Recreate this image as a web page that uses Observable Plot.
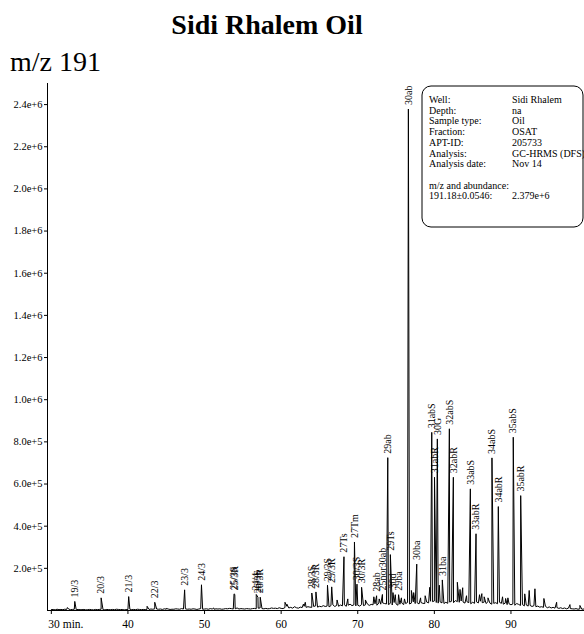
<!DOCTYPE html>
<html>
<head>
<meta charset="utf-8">
<script src="https://cdn.jsdelivr.net/npm/d3@7"></script>
<script src="https://cdn.jsdelivr.net/npm/@observablehq/plot@0.6"></script>
<style>
  body { margin: 0; background: #fff; font-family: "Liberation Serif", "Times New Roman", serif; }
  #wrap { position: relative; width: 584px; height: 634px; overflow: hidden; }
  #title { position: absolute; left: 0; width: 534px; top: 11px; text-align: center;
           font-weight: bold; font-size: 28px; line-height: 28px; }
  #sub { position: absolute; left: 10px; top: 48px; font-size: 28px; line-height: 28px; }
  #chart { position: absolute; left: 0; top: 78px; }
</style>
</head>
<body>
<div id="wrap">
  <div id="title">Sidi Rhalem Oil</div>
  <div id="sub">m/z 191</div>
  <div id="chart"></div>
</div>
<script>
// Retention time axis (min) and abundance ticks
const xTicks = [30, 40, 50, 60, 70, 80, 90];
const yTicks = [2e5, 4e5, 6e5, 8e5, 1.0e6, 1.2e6, 1.4e6, 1.6e6, 1.8e6, 2.0e6, 2.2e6, 2.4e6];

// Identified m/z 191 peaks: retention time (min), abundance, compound label
const peakTimes = [33.06, 36.5, 40.1, 43.5, 47.4, 49.6, 53.85, 53.95, 56.75, 56.97, 57.27,
  64.0, 64.54, 66.05, 66.6, 68.2, 69.57, 69.9, 70.5, 72.46, 73.22, 73.92, 74.26, 74.6, 75.33,
  76.61, 77.7, 79.66, 80.02, 80.39, 81.04, 81.96, 82.48, 84.7, 85.44, 87.52, 88.35, 90.3, 91.27];
const peakHeights = [43e3, 60e3, 66e3, 39e3, 98e3, 122e3, 79e3, 76e3, 76e3, 63e3, 63e3,
  83e3, 88e3, 120e3, 112e3, 255e3, 325e3, 125e3, 110e3, 70e3, 76e3, 725e3, 265e3, 85e3, 75e3,
  2379e3, 220e3, 845e3, 632e3, 814e3, 145e3, 862e3, 632e3, 577e3, 364e3, 724e3, 493e3, 822e3, 545e3];
const peakLabels = ["19/3", "20/3", "21/3", "22/3", "23/3", "24/3", "25/3S", "25/3R", "24/4", "26/3S", "26/3R",
  "28/3S", "28/3R", "29/3S", "29/3R", "27Ts", "27Tm", "30/3S", "30/3R", "28ab", "25nor30ab", "29ab", "29Ts", "30d", "29ba",
  "30ab", "30ba", "31abS", "31abR", "30G", "31ba", "32abS", "32abR", "33abS", "33abR", "34abS", "34abR", "35abS", "35abR"];

// Unassigned minor peaks: retention time (min), abundance
const minorTimes = [32.1, 42.5, 45.0, 51.2, 60.5, 60.75, 62.9, 63.15, 67.3, 68.7, 71.0, 72.1, 72.8,
  74.9, 75.7, 76.1, 77.0, 77.3, 78.2, 78.8, 79.4, 80.65, 83.0, 83.35, 83.7, 84.2, 85.9, 86.2, 86.5,
  87.0, 88.9, 89.3, 89.6, 91.8, 92.38, 93.13, 94.3, 95.96, 97.7, 99.0];
const minorHeights = [14e3, 20e3, 10e3, 12e3, 39e3, 30e3, 30e3, 39e3, 50e3, 55e3, 50e3, 65e3, 55e3,
  75e3, 60e3, 55e3, 95e3, 85e3, 60e3, 70e3, 110e3, 120e3, 134e3, 100e3, 108e3, 70e3, 75e3, 80e3, 65e3,
  60e3, 65e3, 57e3, 60e3, 79e3, 95e3, 103e3, 57e3, 39e3, 28e3, 24e3];

// Baseline signal (thousands of counts), sampled every 0.25 min from 30.0 min
const baselineStart = 30, baselineStep = 0.25;
const baselineK = [
  4,5,3,6,4,5,4,6,  5,7,4,5,6,4,5,4,  4,5,3,4,5,4,3,5,  4,5,6,4,3,5,4,4,
  5,4,6,5,4,5,3,4,  5,6,4,5,4,6,5,4,  5,4,6,5,7,6,8,7,  6,7,5,8,6,7,5,6,
  6,8,7,6,9,7,8,6,  7,6,8,7,5,7,9,6,  7,8,6,9,7,6,8,7,  8,6,7,9,8,10,9,7,
  8,12,7,9,8,7,9,8, 7,9,10,8,11,12,9,8, 10,8,9,12,10,11,9,13,
  10,9,14,20,12,15,11,18,  13,11,16,14,20,15,18,16,  15,19,22,16,20,18,23,19,
  21,17,23,27,19,24,20,26, 22,27,20,25,30,23,27,22,  25,21,28,23,27,31,24,29,
  27,32,25,35,30,36,33,31, 28,34,26,38,31,25,30,35,  28,33,38,31,35,41,33,37,
  31,38,34,33,40,36,44,42, 45,38,35,41,36,33,39,34,  40,44,37,47,42,39,45,40,
  35,42,37,32,39,34,41,36, 44,37,40,33,42,35,30,34,  37,32,39,34,30,35,28,32,
  27,31,25,33,29,24,28,22, 26,21,24,19,23,18,21,16,  18,15,20,13,17,12,15,11,
  14,10,13,9,12,8,11,9,    8,7,9,6,8,6,7
];

// Assemble the chromatogram trace ordered by retention time
const peaks = peakTimes.map((t, i) => ({t, v: peakHeights[i], label: peakLabels[i]}));
const trace = [
  ...baselineK.map((k, i) => ({t: baselineStart + i * baselineStep, v: k * 1000})),
  ...peaks.map(({t, v}) => ({t, v})),
  ...minorTimes.map((t, i) => ({t, v: minorHeights[i]}))
].sort((a, b) => a.t - b.t);

const xDomain = [29.5, 99.6];
const yMax = 2.5e6;

const chart = Plot.plot({
  width: 584,
  height: 556,
  marginLeft: 47,
  marginRight: 0,
  marginTop: 5,
  marginBottom: 24,
  style: {fontFamily: "Liberation Serif", fontSize: "10px", background: "white", color: "black"},
  x: {domain: xDomain, label: null},
  y: {domain: [0, yMax], label: null},
  marks: [
    Plot.ruleX([xDomain[0]], {stroke: "black", strokeWidth: 1}),
    Plot.ruleY([0], {stroke: "black", strokeWidth: 1}),
    Plot.axisY({ticks: yTicks, tickFormat: d3.format(".1e"), tickSize: 3, tickPadding: 2, fontSize: 10.5}),
    Plot.axisX({ticks: xTicks, tickFormat: (d) => d === xTicks[0] ? "" : d, tickSize: 4, tickPadding: 5, fontSize: 11.5}),
    Plot.text([xTicks[0]], {x: (d) => d, text: (d) => `${d} min.`, frameAnchor: "bottom",
      lineAnchor: "top", textAnchor: "start", dy: 9, dx: -3, fontSize: 11.5}),
    Plot.line(trace, {x: "t", y: "v", stroke: "black", strokeWidth: 1}),
    Plot.text(peaks, {x: "t", y: "v", text: "label", rotate: -90, textAnchor: "start",
      lineAnchor: "middle", dy: -4, fontSize: 10})
  ]
});
document.getElementById("chart").appendChild(chart);

// Acquisition details box
const info = [
  ["Well:", "Sidi Rhalem"],
  ["Depth:", "na"],
  ["Sample type:", "Oil"],
  ["Fraction:", "OSAT"],
  ["APT-ID:", "205733"],
  ["Analysis:", "GC-HRMS (DFS)"],
  ["Analysis date:", "Nov 14"],
  ["", ""],
  ["m/z and abundance:", ""],
  ["191.18\u00b10.0546:", d3.format(".3e")(d3.max(peakHeights))]
];
const svg = d3.select(chart);
const box = svg.append("g")
  .attr("font-family", "Liberation Serif")
  .attr("font-size", 10)
  .attr("text-anchor", "start");
box.append("rect")
  .attr("x", 422).attr("y", 8).attr("width", 161).attr("height", 141)
  .attr("rx", 9).attr("ry", 9)
  .attr("fill", "white").attr("stroke", "black").attr("stroke-width", 1);
info.forEach(([k, v], i) => {
  const y = 25 + i * 10.7;
  box.append("text").attr("x", 429).attr("y", y).text(k);
  if (v) box.append("text").attr("x", 512).attr("y", y).text(v);
});
</script>
</body>
</html>
